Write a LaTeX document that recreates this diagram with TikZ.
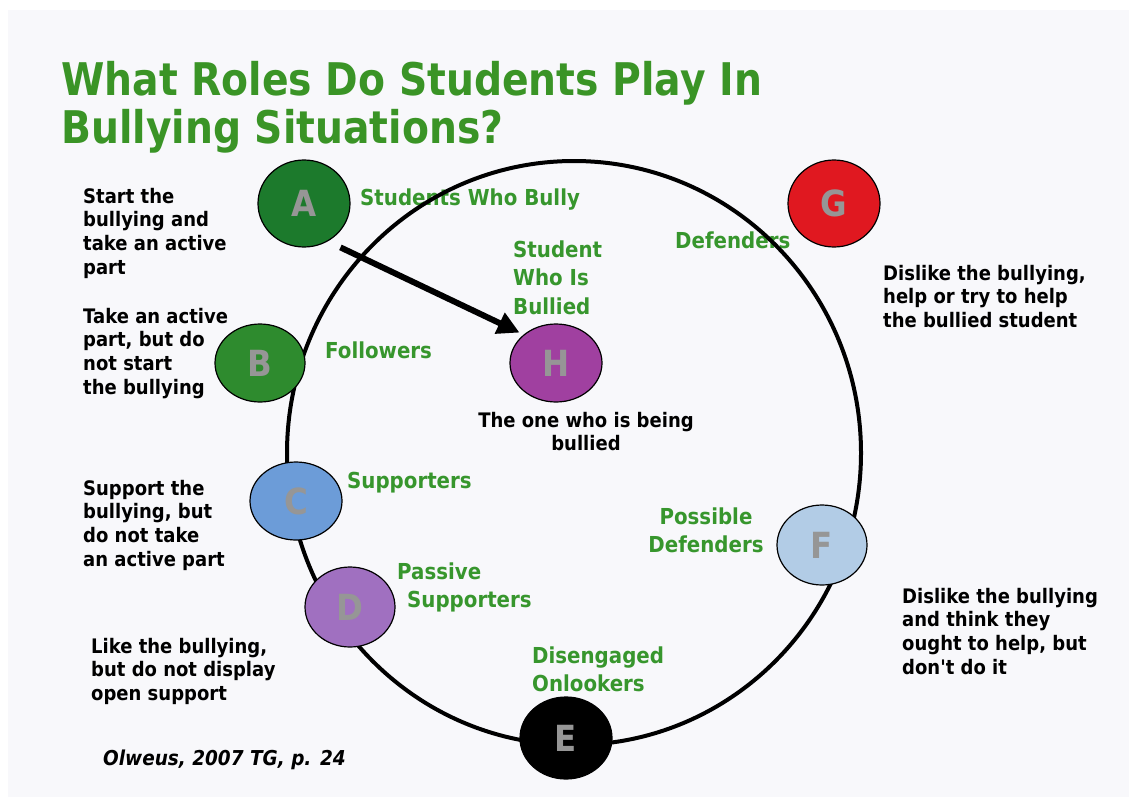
\documentclass[tikz,border=0pt]{standalone}
\usepackage{fontspec}
\setmainfont{DejaVu Sans}
\newfontfamily\bodyfont[FakeStretch=0.9]{DejaVu Sans}
\newfontfamily\titlefont[FakeStretch=0.873]{DejaVu Sans}
\usetikzlibrary{shapes.geometric,arrows.meta}
\definecolor{titlegreen}{RGB}{58,148,38}
\definecolor{lblgreen}{RGB}{55,150,45}
\definecolor{lettergray}{RGB}{150,150,150}
\definecolor{bgcol}{RGB}{248,248,251}
\definecolor{Acol}{RGB}{28,122,44}
\definecolor{Bcol}{RGB}{46,139,46}
\definecolor{Gcol}{RGB}{224,24,32}
\definecolor{Hcol}{RGB}{160,64,160}
\definecolor{Ccol}{RGB}{108,156,216}
\definecolor{Dcol}{RGB}{160,112,192}
\definecolor{Ecol}{RGB}{0,0,0}
\definecolor{Fcol}{RGB}{178,204,230}
\tikzset{
  desc/.style={font=\bodyfont\bfseries\fontsize{20}{23.7}\selectfont, align=left, inner sep=0pt, anchor=north west, text=black},
  lbl/.style={font=\bodyfont\bfseries\fontsize{22}{28}\selectfont, text=lblgreen, inner sep=0pt, anchor=base west},
  lblmulti/.style={font=\bodyfont\bfseries\fontsize{22}{28.5}\selectfont, text=lblgreen, inner sep=0pt, anchor=north west, align=left},
  role/.style={ellipse, draw=black, line width=1.2pt, inner sep=0pt, font=\bodyfont\bfseries\fontsize{36}{36}\selectfont, text=lettergray},
  bigring/.style={draw=black, line width=4pt},
  bullyarrow/.style={draw=black, line width=6pt, -{Triangle[length=22pt,width=22pt]}}
}
\begin{document}
\begin{tikzpicture}[x=1pt,y=-1pt]
\useasboundingbox (0,0) rectangle (1129,811);
\fill[white] (0,0) rectangle (1129,811);
\fill[bgcol] (8,10) rectangle (1129,797);
% title
\node[anchor=north west, align=left, inner sep=0pt, text=titlegreen,
      font=\titlefont\bfseries\fontsize{45}{48}\selectfont] (title) at (61,60.8)
      {What Roles Do Students Play In\\Bullying Situations?};
% descriptions
\node[desc] (descA) at (83,187.8) {Start the\\bullying and\\take an active\\part};
\node[desc] (descB) at (83,307.8) {Take an active\\part, but do\\not start\\the bullying};
\node[desc] (descC) at (83,479.8) {Support the\\bullying, but\\do not take\\an active part};
\node[desc] (descD) at (91,637.8) {Like the bullying,\\but do not display\\open support};
\node[desc] (descG) at (883,264.8) {Dislike the bullying,\\help or try to help\\the bullied student};
\node[desc] (descF) at (902,587.8) {Dislike the bullying\\and think they\\ought to help, but\\don't do it};
\node[desc, align=center, anchor=north] (descH) at (586,411.8) {The one who is being\\bullied};
\node[anchor=base west, inner sep=0pt, font=\bodyfont\bfseries\itshape\fontsize{20.5}{21}\selectfont] (cite) at (103,765) {Olweus, 2007 TG, p. 24};
% green labels
\node[lbl] (lblA) at (360,205) {Students Who Bully};
\node[lblmulti] (lblH) at (513,240.3) {Student\\Who Is\\Bullied};
\node[lbl] (lblB) at (325,358) {Followers};
\node[lbl] (lblC) at (347,488) {Supporters};
\node[lblmulti] (lblD) at (397,562.3) {Passive\\\hspace*{10pt}Supporters};
\node[lblmulti] (lblE) at (532,646.3) {Disengaged\\Onlookers};
\node[lblmulti, align=center, anchor=north] (lblF) at (706,507.3) {Possible\\Defenders};
\node[lbl] (lblG) at (675,248) {Defenders};
% ring
\draw[bigring] (574,453) ellipse [x radius=287pt, y radius=292pt];
% role circles
\node[role, fill=Acol, minimum width=92pt, minimum height=87pt] (A) at (304,203.5) {A};
\node[role, fill=Gcol, minimum width=92pt, minimum height=87pt] (G) at (834,203.5) {G};
\node[role, fill=Bcol, minimum width=90pt, minimum height=78pt] (B) at (260,363) {B};
\node[role, fill=Hcol, minimum width=92pt, minimum height=78pt] (H) at (556,363) {H};
\node[role, fill=Ccol, minimum width=92pt, minimum height=78pt] (C) at (296,501) {C};
\node[role, fill=Dcol, minimum width=90pt, minimum height=80pt] (D) at (350,607) {D};
\node[role, fill=Ecol, minimum width=92pt, minimum height=82pt] (E) at (566,738) {E};
\node[role, fill=Fcol, minimum width=90pt, minimum height=80pt] (F) at (822,545) {F};
% arrow
\draw[bullyarrow] ([xshift=3.5pt,yshift=-12.7pt]A.south east) -- ([xshift=-3.5pt,yshift=2.4pt]H.north west);
\end{tikzpicture}
\end{document}
